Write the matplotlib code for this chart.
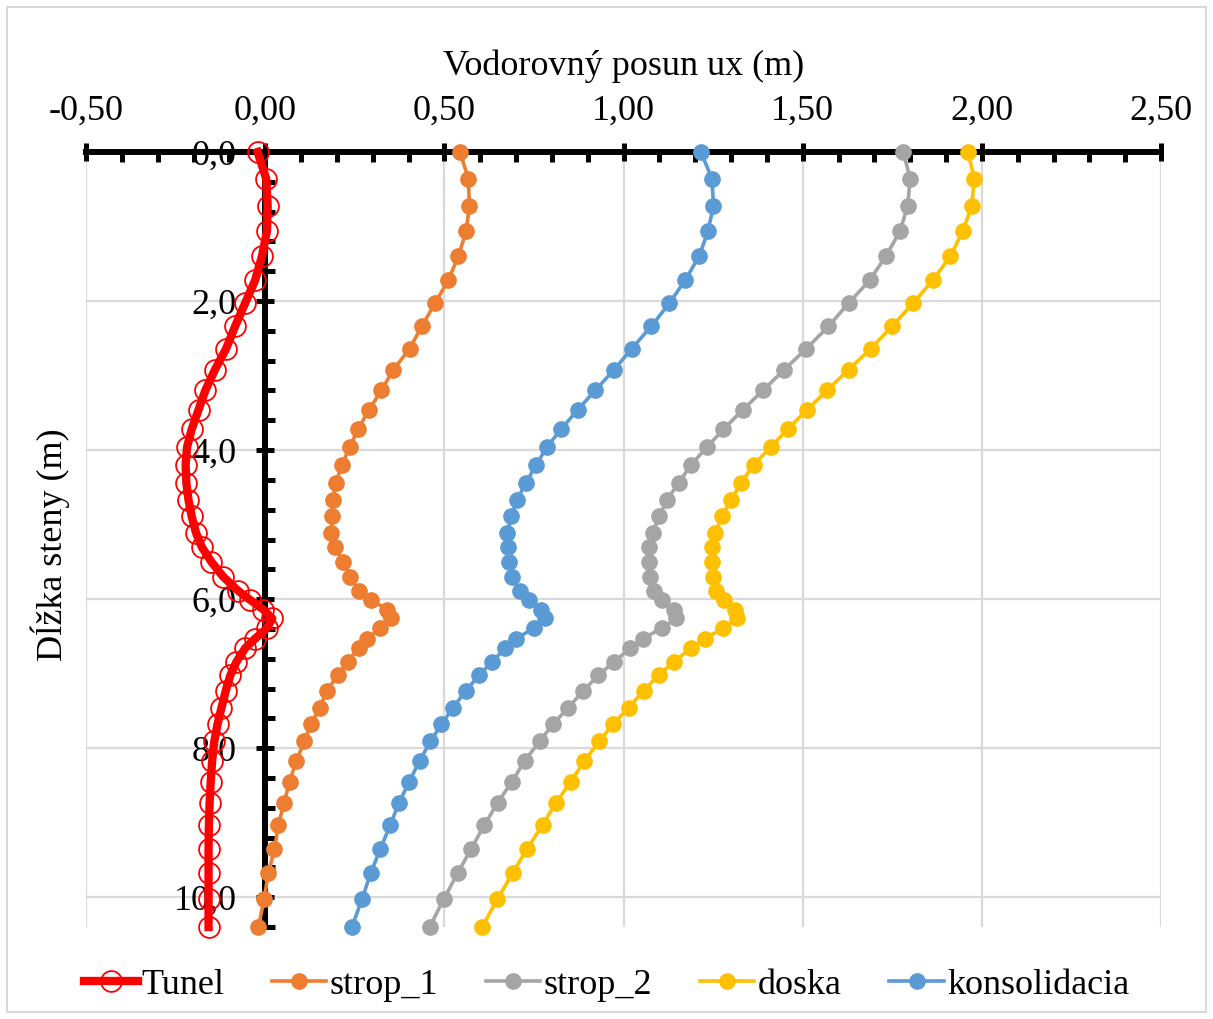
import matplotlib
matplotlib.use("Agg")
import matplotlib.pyplot as plt
from matplotlib.ticker import MultipleLocator, FuncFormatter
from matplotlib.patches import Rectangle

plt.rcParams['font.family'] = ['Liberation Serif', 'DejaVu Serif']

# depth along the wall (m)
depth = [0.00, 0.36, 0.72, 1.06, 1.40, 1.72, 2.03, 2.34, 2.64, 2.92, 3.20, 3.46,
         3.72, 3.96, 4.20, 4.44, 4.67, 4.89, 5.11, 5.30, 5.50, 5.70, 5.89, 6.01,
         6.14, 6.26, 6.39, 6.53, 6.66, 6.84, 7.02, 7.23, 7.46, 7.68, 7.91, 8.17,
         8.45, 8.73, 9.03, 9.36, 9.67, 10.03, 10.40]

tunel = [-0.021, 0.003, 0.007, 0.005, -0.009, -0.028, -0.056, -0.084, -0.109, -0.140,
         -0.167, -0.186, -0.205, -0.218, -0.222, -0.220, -0.214, -0.205, -0.193, -0.177,
         -0.150, -0.117, -0.075, -0.042, -0.005, 0.020, 0.005, -0.028, -0.056, -0.080,
         -0.097, -0.110, -0.122, -0.133, -0.142, -0.148, -0.152, -0.155, -0.157, -0.158,
         -0.158, -0.158, -0.158]

strop_1 = [0.544, 0.567, 0.570, 0.561, 0.539, 0.511, 0.474, 0.437, 0.403, 0.358,
           0.324, 0.290, 0.259, 0.236, 0.214, 0.197, 0.189, 0.187, 0.185, 0.195,
           0.217, 0.237, 0.261, 0.295, 0.341, 0.352, 0.321, 0.284, 0.261, 0.230,
           0.203, 0.172, 0.152, 0.128, 0.109, 0.087, 0.068, 0.053, 0.037, 0.026,
           0.009, -0.003, -0.019]

strop_2 = [1.781, 1.800, 1.793, 1.772, 1.732, 1.687, 1.628, 1.572, 1.510, 1.449,
           1.389, 1.333, 1.279, 1.233, 1.188, 1.154, 1.121, 1.100, 1.081, 1.072,
           1.072, 1.074, 1.086, 1.107, 1.141, 1.147, 1.107, 1.054, 1.019, 0.974,
           0.930, 0.888, 0.845, 0.803, 0.766, 0.724, 0.689, 0.649, 0.612, 0.574,
           0.538, 0.498, 0.459]

doska = [1.961, 1.979, 1.972, 1.947, 1.912, 1.863, 1.808, 1.749, 1.690, 1.628,
         1.568, 1.512, 1.458, 1.411, 1.363, 1.328, 1.300, 1.275, 1.256, 1.247,
         1.247, 1.250, 1.259, 1.281, 1.310, 1.316, 1.277, 1.228, 1.188, 1.141,
         1.098, 1.056, 1.014, 0.970, 0.932, 0.891, 0.853, 0.812, 0.774, 0.730,
         0.691, 0.648, 0.605]

konsolidacia = [1.216, 1.247, 1.251, 1.236, 1.211, 1.172, 1.128, 1.077, 1.023, 0.974,
                0.921, 0.872, 0.826, 0.786, 0.756, 0.728, 0.702, 0.687, 0.676, 0.677,
                0.681, 0.690, 0.710, 0.737, 0.769, 0.781, 0.749, 0.701, 0.670, 0.633,
                0.597, 0.560, 0.524, 0.492, 0.461, 0.431, 0.402, 0.374, 0.349, 0.321,
                0.295, 0.270, 0.242]

x_label = "Vodorovný posun ux (m)"
y_label = "Dĺžka steny (m)"

W, H = 1213, 1019
fig = plt.figure(figsize=(W / 100, H / 100), dpi=100)
ax = fig.add_axes([86 / W, 1 - 927 / H, (1161 - 86) / W, (927 - 152) / H])

FS = 26

common = dict(marker='o', markersize=11, linewidth=2.6, clip_on=False, zorder=4)
l_strop1, = ax.plot(strop_1, depth, color='#ED7D31', label='strop_1', **common)
l_strop2, = ax.plot(strop_2, depth, color='#A5A5A5', label='strop_2', **common)
l_doska, = ax.plot(doska, depth, color='#FFC000', label='doska', **common)
l_kons, = ax.plot(konsolidacia, depth, color='#5B9BD5', label='konsolidacia', **common)
l_tunel, = ax.plot(tunel, depth, color='#FF0000', linewidth=6, marker='o',
                   markersize=15, markerfacecolor='none', markeredgecolor='#FF0000',
                   markeredgewidth=1.3, clip_on=False, zorder=5, label='Tunel')

ax.set_xlim(-0.5, 2.5)
ax.set_ylim(10.4, 0)

ax.xaxis.tick_top()
ax.xaxis.set_label_position('top')
ax.xaxis.set_major_locator(MultipleLocator(0.5))
ax.xaxis.set_minor_locator(MultipleLocator(0.1))
ax.yaxis.set_major_locator(MultipleLocator(2.0))
ax.yaxis.set_minor_locator(MultipleLocator(0.4))
ax.xaxis.set_major_formatter(FuncFormatter(lambda v, p: f"{v:.2f}".replace('.', ',').replace('-0,00', '0,00')))
ax.yaxis.set_major_formatter(FuncFormatter(lambda v, p: f"{v:.1f}".replace('.', ',')))

for s in ['right', 'bottom']:
    ax.spines[s].set_visible(False)
ax.spines['left'].set_position(('data', 0))
for s in ['left', 'top']:
    ax.spines[s].set_linewidth(4.3)
    ax.spines[s].set_color('black')
    ax.spines[s].set_zorder(3)

ax.tick_params(axis='x', which='major', direction='inout', length=13, width=3.6,
               labelsize=FS, pad=11, top=True, bottom=False)
ax.tick_params(axis='x', which='minor', direction='in', length=7, width=3.6,
               top=True, bottom=False)
ax.tick_params(axis='y', which='major', direction='inout', length=13, width=3.6,
               labelsize=FS, pad=14)
ax.tick_params(axis='y', which='minor', direction='in', length=7, width=3.6)

ax.grid(True, which='major', color='#D9D9D9', linewidth=1.6, zorder=0)
ax.set_axisbelow(True)

ax.set_xlabel(x_label, fontsize=FS, labelpad=14)
fig.text(50 / W, 1 - 545 / H, y_label, rotation=90, fontsize=FS,
         ha='center', va='center')

fig.legend(handles=[l_tunel, l_strop1, l_strop2, l_doska, l_kons],
           loc='center', bbox_to_anchor=(0.5, 1 - 985 / H), ncol=5,
           frameon=False, fontsize=FS, handlelength=1.5, handletextpad=0.1,
           columnspacing=1.32)

fig.patches.append(Rectangle((7 / W, 7 / H), 1 - 14 / W, 1 - 14 / H,
                             transform=fig.transFigure, fill=False,
                             edgecolor='#D9D9D9', linewidth=1.5))

fig.savefig('out.png', dpi=100)
